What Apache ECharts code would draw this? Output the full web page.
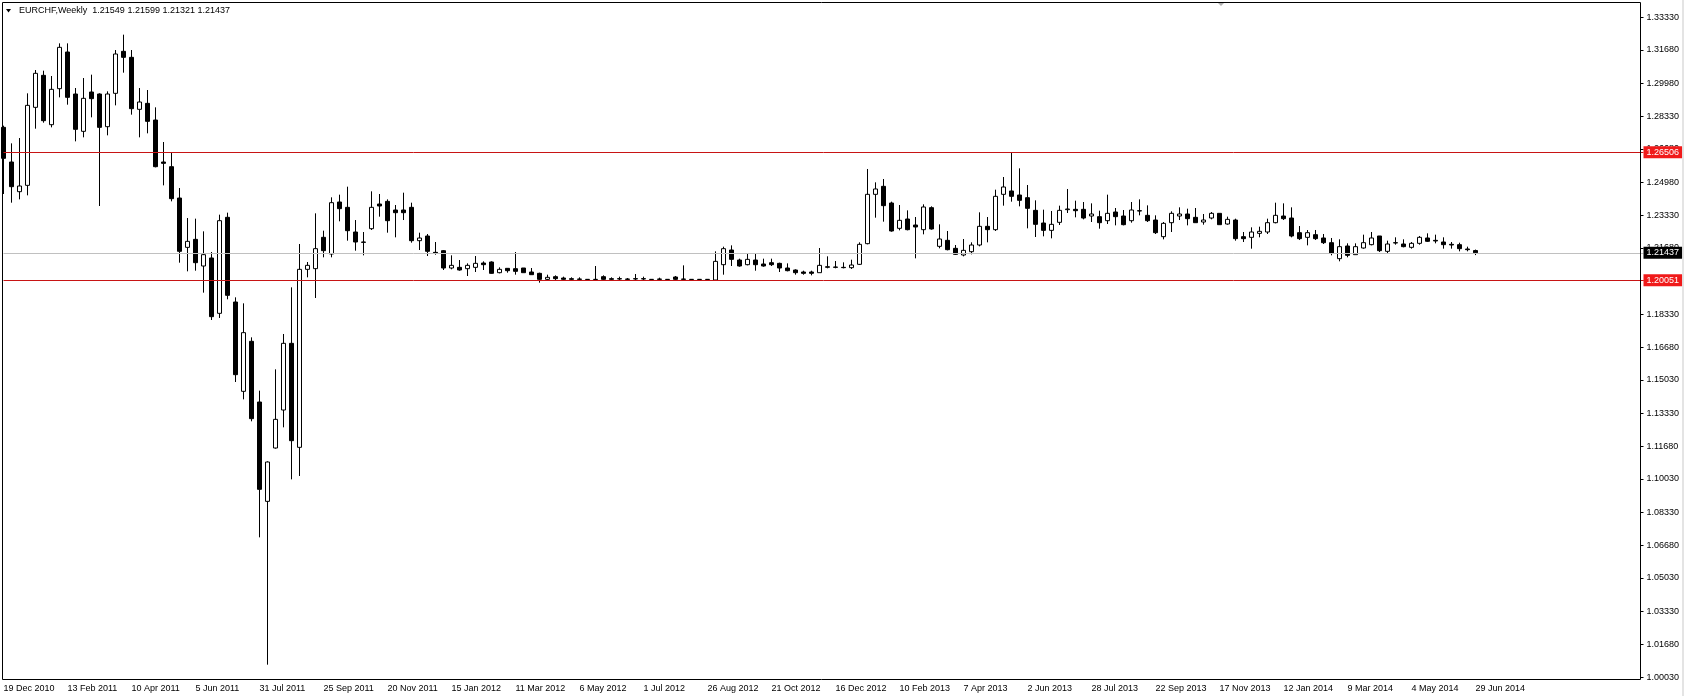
<!DOCTYPE html>
<html>
<head>
<meta charset="utf-8">
<script src="https://cdn.jsdelivr.net/npm/echarts@6/dist/echarts.min.js"></script>
<style>
html,body{margin:0;padding:0;background:#fff;}
#chart{width:1684px;height:696px;}
</style>
</head>
<body>
<div id="chart"></div>
<script>
// ---- data (weekly EURCHF candles, first week = 19 Dec 2010) ----
const startDate = [2010, 11, 19];
const headerText = 'EURCHF,Weekly  1.21549 1.21599 1.21321 1.21437';
const opens = [1.27765,1.26017,1.24520,1.24839,1.28775,1.30389,1.27900,1.29716,1.31566,1.29447,1.27564,1.29548,1.29447,1.27799,1.29481,1.31600,1.31297,1.28674,1.28976,1.28135,1.26017,1.25781,1.24200,1.21711,1.22115,1.20770,1.21174,1.18382,1.23226,1.18954,1.14447,1.16970,1.13909,1.08897,1.11588,1.13505,1.16869,1.11622,1.20602,1.20636,1.22217,1.21376,1.23999,1.23730,1.22485,1.21981,1.22653,1.23898,1.24032,1.23595,1.23595,1.23730,1.22048,1.22283,1.21459,1.21543,1.20669,1.20702,1.20635,1.20702,1.20921,1.20972,1.20433,1.20652,1.20635,1.20669,1.20467,1.20400,1.20097,1.20232,1.20164,1.20131,1.20114,1.20097,1.20097,1.20232,1.20131,1.20131,1.20114,1.20131,1.20131,1.20097,1.20114,1.20097,1.20215,1.20114,1.20097,1.20097,1.20097,1.20063,1.20837,1.21577,1.21072,1.20837,1.21072,1.20871,1.20938,1.20904,1.20669,1.20568,1.20467,1.20467,1.20433,1.20703,1.20720,1.20703,1.20686,1.20854,1.21897,1.24386,1.24789,1.23948,1.22670,1.23141,1.22838,1.22603,1.23713,1.21762,1.22065,1.21661,1.21325,1.21493,1.21829,1.22771,1.22603,1.24386,1.24554,1.24352,1.24217,1.23578,1.22939,1.22569,1.22973,1.23612,1.23629,1.23629,1.23292,1.23259,1.23057,1.23494,1.23292,1.23057,1.23561,1.23326,1.23090,1.22250,1.22956,1.23292,1.23393,1.23225,1.22990,1.23191,1.23427,1.22889,1.23090,1.22250,1.22216,1.22418,1.22485,1.22956,1.23292,1.23191,1.22451,1.22216,1.22351,1.22183,1.21947,1.21140,1.21779,1.21342,1.21678,1.21847,1.22284,1.21510,1.21947,1.21880,1.21712,1.21914,1.22183,1.22065,1.21981,1.21864,1.21847,1.21628,1.21549];
const highs = [1.27850,1.26958,1.27227,1.29481,1.30658,1.30624,1.30355,1.32003,1.32003,1.29750,1.30254,1.30423,1.29481,1.29582,1.31667,1.32441,1.31667,1.29750,1.29649,1.28775,1.27026,1.26487,1.24705,1.23191,1.23158,1.22519,1.21477,1.23360,1.23461,1.19189,1.18887,1.17171,1.14481,1.10916,1.15557,1.17340,1.19694,1.21880,1.20972,1.23427,1.22553,1.24235,1.24369,1.24772,1.23090,1.22485,1.24537,1.24402,1.24133,1.23847,1.24469,1.23965,1.22451,1.22384,1.21981,1.21577,1.21308,1.21072,1.20904,1.21274,1.21005,1.21005,1.20702,1.20669,1.21476,1.20669,1.20669,1.20433,1.20332,1.20299,1.20232,1.20198,1.20198,1.20114,1.20770,1.20299,1.20198,1.20232,1.20164,1.20366,1.20232,1.20114,1.20181,1.20114,1.20265,1.20803,1.20114,1.20114,1.20114,1.21510,1.21745,1.21812,1.21140,1.21375,1.21409,1.21140,1.21140,1.20938,1.20904,1.20602,1.20534,1.20534,1.21678,1.21258,1.21022,1.20955,1.21089,1.21964,1.25664,1.24991,1.25159,1.24016,1.23847,1.23578,1.23242,1.23881,1.23780,1.22872,1.22536,1.21829,1.22132,1.21964,1.23478,1.23242,1.24621,1.25260,1.26505,1.25697,1.24856,1.24083,1.23612,1.23545,1.23814,1.24655,1.24066,1.23999,1.23931,1.23561,1.24369,1.23696,1.23595,1.23999,1.24133,1.23830,1.23326,1.22990,1.23528,1.23730,1.23662,1.23696,1.23393,1.23494,1.23427,1.23259,1.23158,1.22485,1.22721,1.22754,1.23158,1.23965,1.23931,1.23730,1.22788,1.22586,1.22587,1.22385,1.22183,1.22116,1.21914,1.21914,1.22351,1.22486,1.22284,1.22048,1.22217,1.22116,1.21981,1.22284,1.22418,1.22351,1.22217,1.21981,1.21947,1.21746,1.21599];
const lows = [1.24402,1.23965,1.24133,1.24335,1.27698,1.28001,1.27765,1.29279,1.28909,1.27059,1.27261,1.28270,1.23797,1.27362,1.28875,1.30523,1.28405,1.27261,1.27463,1.25747,1.24839,1.24032,1.20938,1.20501,1.20534,1.19425,1.18046,1.18147,1.19089,1.14918,1.14043,1.12934,1.07081,1.00657,1.11555,1.12631,1.10007,1.10176,1.20198,1.19156,1.21208,1.21208,1.23024,1.22048,1.21543,1.21308,1.22586,1.23259,1.22451,1.22216,1.23090,1.21947,1.21577,1.21274,1.21342,1.20568,1.20602,1.20534,1.20265,1.20467,1.20568,1.20383,1.20400,1.20433,1.20332,1.20433,1.20332,1.19929,1.20063,1.20063,1.20063,1.20063,1.20063,1.20080,1.20063,1.20063,1.20063,1.20063,1.20063,1.20063,1.20063,1.20080,1.20063,1.20080,1.20063,1.20080,1.20080,1.20080,1.20080,1.20046,1.20332,1.20770,1.20736,1.20803,1.20534,1.20736,1.20770,1.20467,1.20501,1.20332,1.20332,1.20299,1.20433,1.20652,1.20652,1.20652,1.20619,1.20820,1.21863,1.23208,1.23007,1.22502,1.22569,1.22569,1.21157,1.22368,1.22603,1.21661,1.21560,1.21325,1.21258,1.21359,1.21762,1.21964,1.22536,1.23814,1.24016,1.23780,1.22670,1.22233,1.22267,1.22166,1.22838,1.23444,1.23225,1.23124,1.22990,1.22653,1.22889,1.22821,1.22821,1.22956,1.23326,1.22990,1.22384,1.22115,1.22485,1.23090,1.22821,1.22956,1.22855,1.23124,1.22855,1.22855,1.22048,1.21981,1.21644,1.22216,1.22384,1.22922,1.23090,1.22216,1.22081,1.21812,1.22082,1.21880,1.21308,1.21006,1.21208,1.21342,1.21645,1.21813,1.21477,1.21376,1.21847,1.21712,1.21645,1.21847,1.21981,1.21914,1.21645,1.21645,1.21510,1.21510,1.21321];
const closes = [1.26202,1.24772,1.24806,1.28875,1.30490,1.28102,1.29683,1.31802,1.29279,1.27665,1.29229,1.29212,1.27765,1.29447,1.31465,1.31297,1.28707,1.29044,1.28068,1.25781,1.25949,1.24167,1.21510,1.22014,1.20938,1.21342,1.18214,1.23057,1.19290,1.15288,1.17407,1.13068,1.09503,1.10882,1.13034,1.16869,1.11958,1.20602,1.20804,1.21645,1.21544,1.23965,1.23663,1.22552,1.21981,1.21964,1.23730,1.23797,1.23057,1.23460,1.23460,1.22048,1.22182,1.21510,1.21426,1.20669,1.20803,1.20568,1.20803,1.20904,1.20837,1.20400,1.20602,1.20534,1.20501,1.20433,1.20332,1.20097,1.20198,1.20131,1.20097,1.20097,1.20097,1.20090,1.20090,1.20097,1.20097,1.20114,1.20097,1.20114,1.20114,1.20090,1.20097,1.20090,1.20097,1.20097,1.20090,1.20090,1.20090,1.21005,1.21644,1.21106,1.20770,1.21106,1.20837,1.20770,1.20837,1.20669,1.20534,1.20433,1.20400,1.20400,1.20803,1.20736,1.20703,1.20686,1.20820,1.21863,1.24386,1.24655,1.23814,1.22536,1.23074,1.22603,1.22738,1.23747,1.22637,1.22132,1.21594,1.21359,1.21560,1.21829,1.22771,1.22603,1.24285,1.24756,1.24285,1.24083,1.23679,1.22872,1.22569,1.22872,1.23578,1.23646,1.23561,1.23191,1.23393,1.22956,1.23427,1.23259,1.22855,1.23595,1.23544,1.23057,1.22451,1.22922,1.23427,1.23393,1.23158,1.22956,1.23090,1.23427,1.22855,1.23124,1.22149,1.22149,1.22485,1.22519,1.22956,1.23326,1.23158,1.22283,1.22149,1.22451,1.22149,1.21947,1.21409,1.21746,1.21308,1.21746,1.21947,1.22183,1.21544,1.21880,1.21931,1.21746,1.21914,1.22217,1.22015,1.22032,1.21847,1.21830,1.21645,1.21594,1.21437];
const supportLevel = 1.20051;
const resistanceLevel = 1.26506;
const lastPrice = 1.21437;
const yTickLabels = [1.33330,1.31680,1.29980,1.28330,1.26680,1.24980,1.23330,1.21680,1.20030,1.18330,1.16680,1.15030,1.13330,1.11680,1.10030,1.08330,1.06680,1.05030,1.03330,1.01680,1.00030];
const totalSlots = 206;       // includes empty chart-shift area on the right
const labelEvery = 8;

// ---- build categories (weekly dates) ----
const MONTHS = ['Jan','Feb','Mar','Apr','May','Jun','Jul','Aug','Sep','Oct','Nov','Dec'];
const t0 = Date.UTC(startDate[0], startDate[1], startDate[2]);
const categories = [];
for (let i = 0; i < totalSlots; i++) {
  const d = new Date(t0 + i * 7 * 86400000);
  categories.push(d.getUTCDate() + ' ' + MONTHS[d.getUTCMonth()] + ' ' + d.getUTCFullYear());
}
const candleData = [];
for (let i = 0; i < totalSlots; i++) {
  if (i < opens.length) candleData.push([opens[i], closes[i], lows[i], highs[i]]);
  else candleData.push('-');
}
const nBars = opens.length;

const FONT = 'Liberation Sans, Arial, sans-serif';
function levelLabel(v, bg) {
  return {show: true, position: 'end', distance: 0, formatter: v.toFixed(5), color: '#fff',
          backgroundColor: bg, padding: [2, 3, 1, 3], fontSize: 9, fontFamily: FONT};
}
const chart = echarts.init(document.getElementById('chart'), null, {renderer: 'canvas'});
chart.setOption({
  animation: false,
  backgroundColor: '#ffffff',
  grid: {left: 3.5, right: 40.5, top: 2, bottom: 16, containLabel: false},
  xAxis: {
    type: 'category',
    data: categories,
    boundaryGap: false,
    axisLine: {show: false},
    axisTick: {show: false},
    splitLine: {show: false},
    axisLabel: {
      interval: function (i) { return i % labelEvery === 0 && i < nBars; },
      align: 'left',
      margin: 4,
      fontSize: 9,
      fontFamily: FONT,
      color: '#000',
      hideOverlap: false
    }
  },
  yAxis: {
    type: 'value',
    position: 'right',
    offset: -3,
    min: 0.99884,
    max: 1.34089,
    scale: true,
    splitLine: {show: false},
    axisLine: {show: false},
    axisTick: {show: true, inside: false, length: 3, lineStyle: {color: '#000'}, customValues: yTickLabels},
    axisLabel: {
      customValues: yTickLabels,
      formatter: function (v) { return v.toFixed(5); },
      fontSize: 9,
      fontFamily: FONT,
      color: '#000',
      margin: 6
    }
  },
  series: [{
    type: 'candlestick',
    data: candleData,
    barWidth: 4,
    clip: true,
    itemStyle: {
      color: '#ffffff',
      color0: '#000000',
      borderColor: '#000000',
      borderColor0: '#000000',
      borderColorDoji: '#000000',
      borderWidth: 1
    },
    markLine: {
      silent: true,
      symbol: 'none',
      precision: 5,
      animation: false,
      data: [
        {yAxis: resistanceLevel, lineStyle: {color: '#c81414', width: 1, type: 'solid'}, label: levelLabel(resistanceLevel, '#f01a1a')},
        {yAxis: lastPrice, lineStyle: {color: '#c0c0c0', width: 1, type: 'solid'}, label: levelLabel(lastPrice, '#000')},
        {yAxis: supportLevel, lineStyle: {color: '#c81414', width: 1, type: 'solid'}, label: levelLabel(supportLevel, '#f01a1a')}
      ]
    }
  }],
  graphic: [
    {type: 'rect', silent: true, z: 10, shape: {x: 2.5, y: 2.5, width: 1638, height: 677}, style: {fill: 'none', stroke: '#000', lineWidth: 1}},
    {type: 'rect', silent: true, shape: {x: 1682, y: 0, width: 2, height: 696}, style: {fill: '#e4e4e4'}},
    {type: 'polygon', silent: true, shape: {points: [[6, 9], [11, 9], [8.5, 12.5]]}, style: {fill: '#000'}},
    {type: 'polygon', silent: true, shape: {points: [[1217, 2], [1225, 2], [1221, 6]]}, style: {fill: '#b0b0b0'}},
    {type: 'text', silent: true, style: {text: headerText, x: 19, y: 11, verticalAlign: 'middle', font: '9px ' + FONT, fill: '#000'}}
  ]
});
</script>
</body>
</html>
